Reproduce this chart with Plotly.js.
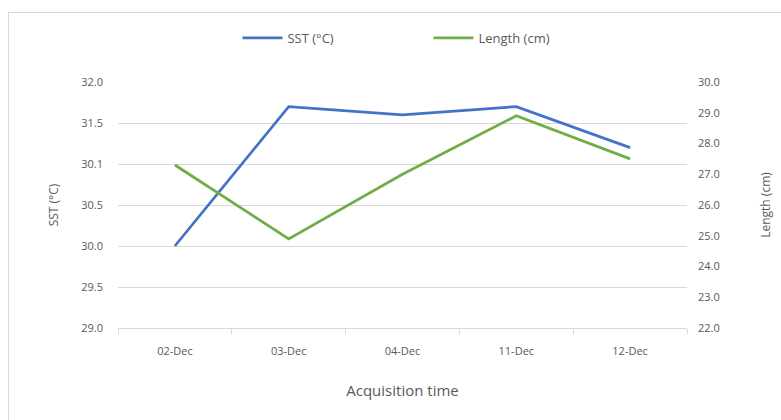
<!DOCTYPE html>
<html>
<head>
<meta charset="utf-8">
<script src="https://cdn.plot.ly/plotly-3.0.1.min.js"></script>
<style>
  html, body { margin: 0; padding: 0; background: #ffffff; }
  #wrap { position: relative; width: 781px; height: 420px; overflow: hidden; }
  #chart { position: absolute; left: 0; top: 0; width: 781px; height: 420px; }
  #frame { position: absolute; left: 8px; top: 12px; width: 800px; height: 440px;
           border: 1px solid #d9d9d9; box-sizing: border-box; pointer-events: none; }
</style>
</head>
<body>
<div id="wrap">
  <div id="chart"></div>
  <div id="frame"></div>
</div>
<script>
const categories = ["02-Dec", "03-Dec", "04-Dec", "11-Dec", "12-Dec"];
const sstValues = [30.0, 31.7, 31.6, 31.7, 31.2];
const lengthValues = [27.3, 24.9, 27.0, 28.9, 27.5];
const leftTickVals = [29.0, 29.5, 30.0, 30.5, 31.0, 31.5, 32.0];
const leftTickText = ["29.0", "29.5", "30.0", "30.5", "30.1", "31.5", "32.0"];
const rightTickVals = [22, 23, 24, 25, 26, 27, 28, 29, 30];
const rightTickText = ["22.0", "23.0", "24.0", "25.0", "26.0", "27.0", "28.0", "29.0", "30.0"];

const fontFam = "'Open Sans', 'DejaVu Sans', sans-serif";
const grey = "#595959";

const traces = [
  {
    x: categories, y: sstValues, name: "SST (°C)", type: "scatter", mode: "lines",
    line: { color: "#4472C4", width: 2.75 }, yaxis: "y"
  },
  {
    x: categories, y: lengthValues, name: "Length (cm)", type: "scatter", mode: "lines",
    line: { color: "#70AD47", width: 2.75 }, yaxis: "y2"
  }
];

const layout = {
  width: 781, height: 420,
  paper_bgcolor: "#ffffff", plot_bgcolor: "#ffffff",
  margin: { l: 118, r: 94, t: 82, b: 92 },
  font: { family: fontFam, color: grey, size: 11 },
  showlegend: true,
  legend: {
    orientation: "h", x: 0.21, xanchor: "left", y: 1.179, yanchor: "middle",
    font: { size: 13, color: grey }, itemwidth: 40, traceorder: "normal",
    entrywidth: 136, entrywidthmode: "pixels"
  },
  xaxis: {
    type: "category",
    range: [-0.5, 4.5],
    tickson: "boundaries",
    ticks: "outside", ticklen: 5, tickcolor: "#d9d9d9",
    showline: true, linecolor: "#d9d9d9", linewidth: 1,
    showgrid: false,
    ticklabelstandoff: 13,
    tickfont: { size: 11, color: grey },
    title: { text: "Acquisition time", font: { size: 15, color: grey }, standoff: 28 }
  },
  yaxis: {
    range: [29, 32], tickvals: leftTickVals, ticktext: leftTickText,
    showgrid: true, gridcolor: "#d9d9d9", gridwidth: 1, zeroline: false,
    showline: false, ticks: "", ticklabelstandoff: 14,
    tickfont: { size: 11, color: grey },
    title: { text: "SST (°C)", font: { size: 12, color: grey }, standoff: 20 }
  },
  yaxis2: {
    range: [22, 30], tickvals: rightTickVals, ticktext: rightTickText,
    overlaying: "y", side: "right",
    showgrid: false, zeroline: false, showline: false, ticks: "", ticklabelstandoff: 10,
    tickfont: { size: 11, color: grey },
    title: { text: "Length (cm)", font: { size: 12, color: grey }, standoff: 42 }
  }
};

Plotly.newPlot("chart", traces, layout, { displayModeBar: false, staticPlot: true });
</script>
</body>
</html>
